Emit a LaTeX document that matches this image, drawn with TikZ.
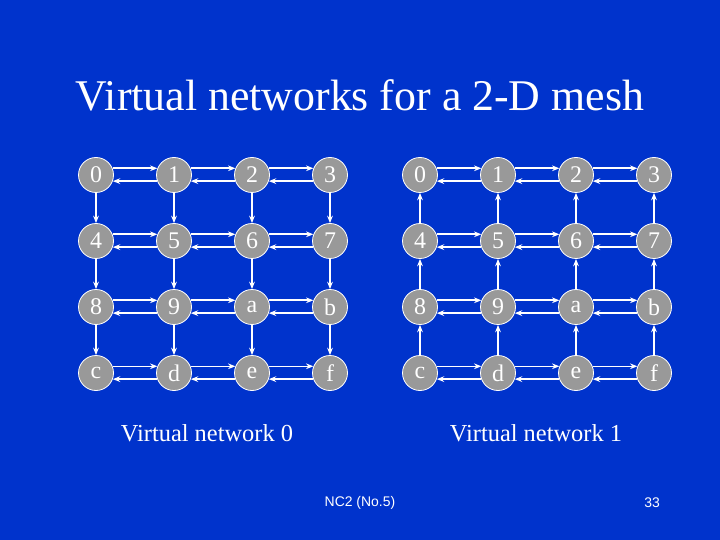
\documentclass[tikz,border=0pt]{standalone}
\usepackage{fontspec}
\setmainfont{Liberation Serif}
\newfontfamily\footfont{Liberation Sans}
\usetikzlibrary{arrows.meta}
\definecolor{slideblue}{HTML}{0033CC}
\definecolor{routergray}{HTML}{999999}
\tikzset{
  router/.style={circle, draw=white, line width=0.8pt, fill=routergray, text=white,
                 minimum size=35bp, inner sep=0pt, font=\fontsize{24}{24}\selectfont},
  link/.style={-{Stealth[length=2.6mm, width=2mm]}, draw=white, line width=1.6pt},
  lbl/.style={text=white, font=\fontsize{24.5}{28}\selectfont},
  title/.style={text=white, font=\fontsize{44}{48}\selectfont},
  foot/.style={text=white, font=\footfont\fontsize{14}{16}\selectfont},
}

\begin{document}
\begin{tikzpicture}[x=1bp, y=-1bp]
  \fill[slideblue] (0,0) rectangle (720,540);
  \node[title] (head) at (360,95) {Virtual networks for a 2-D mesh};

  % routers of both meshes
  \foreach \lab [count=\i from 0] in {0,1,2,3,4,5,6,7,8,9,a,b,c,d,e,f} {
    \pgfmathtruncatemacro{\row}{int(\i/4)}
    \pgfmathtruncatemacro{\col}{\i-4*\row}
    \node[router] (L\i) at (96+78*\col, 175+66*\row) {\lab};
    \node[router] (R\i) at (420+78*\col, 175+66*\row) {\lab};
  }

  % horizontal links, both directions
  \foreach \r in {0,...,3} {
    \foreach \c in {0,1,2} {
      \pgfmathtruncatemacro{\a}{4*\r+\c}
      \pgfmathtruncatemacro{\b}{\a+1}
      \draw[link] (L\a.22) -- (L\b.158);
      \draw[link] (L\b.-160) -- (L\a.-20);
      \draw[link] (R\a.22) -- (R\b.158);
      \draw[link] (R\b.-160) -- (R\a.-20);
    }
  }

  % vertical links: down in network 0, up in network 1
  \foreach \r in {0,1,2} {
    \foreach \c in {0,...,3} {
      \pgfmathtruncatemacro{\a}{4*\r+\c}
      \pgfmathtruncatemacro{\b}{\a+4}
      \draw[link] (L\a) -- (L\b);
      \draw[link] (R\b) -- (R\a);
    }
  }

  \node[lbl] (vn0) at (207,433) {Virtual network 0};
  \node[lbl] (vn1) at (536,433) {Virtual network 1};
  \node[foot] (src) at (360,503) {NC2 (No.5)};
  \node[foot] (page) at (652,503) {33};
\end{tikzpicture}
\end{document}
